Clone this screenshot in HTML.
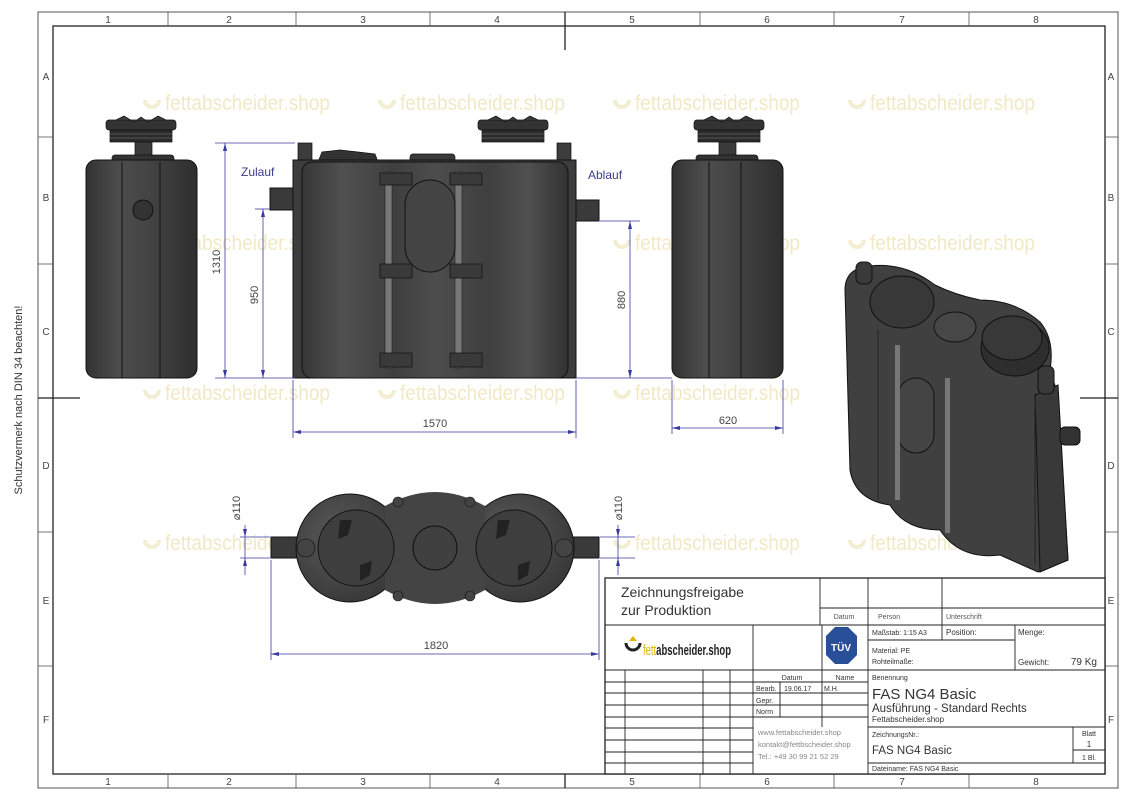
<!DOCTYPE html>
<html><head><meta charset="utf-8"><style>
html,body{margin:0;padding:0;background:#fff}
svg{display:block}
text{font-family:"Liberation Sans",sans-serif}
</style></head><body>
<svg width="1131" height="800" viewBox="0 0 1131 800" xmlns="http://www.w3.org/2000/svg">
<defs>
<linearGradient id="g1" x1="0" x2="1" y1="0" y2="0">
<stop offset="0" stop-color="#333"/><stop offset="0.3" stop-color="#4d4d4d"/><stop offset="0.6" stop-color="#424242"/><stop offset="1" stop-color="#2e2e2e"/></linearGradient>
<linearGradient id="g2" x1="0" x2="1" y1="0" y2="0">
<stop offset="0" stop-color="#363636"/><stop offset="0.15" stop-color="#505050"/><stop offset="0.35" stop-color="#3f3f3f"/><stop offset="0.5" stop-color="#4d4d4d"/><stop offset="0.7" stop-color="#3f3f3f"/><stop offset="0.85" stop-color="#505050"/><stop offset="1" stop-color="#323232"/></linearGradient>
<radialGradient id="g3" cx="0.4" cy="0.4" r="0.7"><stop offset="0" stop-color="#5a5a5a"/><stop offset="1" stop-color="#353535"/></radialGradient>
<g id="lid"><rect x="0" y="0" width="70" height="10" rx="3" fill="#333" stroke="#111" stroke-width="0.7"/><rect x="4" y="10" width="62" height="12" fill="#2b2b2b" stroke="#111" stroke-width="0.7"/><line x1="4" y1="14" x2="66" y2="14" stroke="#555"/><line x1="4" y1="18" x2="66" y2="18" stroke="#555"/><path d="M10 0 L18 -4 L28 2 L35 -3 L42 2 L52 -4 L60 0" fill="#3a3a3a" stroke="#111" stroke-width="0.7"/></g>
<g id="wm"><path d="M-20 -10 a7 7 0 1 0 14 0" fill="none" stroke="#f3edd2" stroke-width="4"/><text x="0" y="0" font-size="21" fill="#f1e9c6" textLength="165" lengthAdjust="spacingAndGlyphs">fettabscheider.shop</text></g>
</defs>

<!-- frame -->
<rect x="38" y="12" width="1080" height="776" fill="none" stroke="#555" stroke-width="1"/>
<rect x="53" y="26" width="1052" height="748" fill="none" stroke="#222" stroke-width="1.3"/>
<g stroke="#555" stroke-width="0.8">
<line x1="168" y1="12" x2="168" y2="26"/><line x1="296" y1="12" x2="296" y2="26"/><line x1="430" y1="12" x2="430" y2="26"/><line x1="700" y1="12" x2="700" y2="26"/><line x1="834" y1="12" x2="834" y2="26"/><line x1="969" y1="12" x2="969" y2="26"/>
<line x1="168" y1="774" x2="168" y2="788"/><line x1="296" y1="774" x2="296" y2="788"/><line x1="430" y1="774" x2="430" y2="788"/><line x1="700" y1="774" x2="700" y2="788"/><line x1="834" y1="774" x2="834" y2="788"/><line x1="969" y1="774" x2="969" y2="788"/>
<line x1="38" y1="137" x2="53" y2="137"/><line x1="38" y1="264" x2="53" y2="264"/><line x1="38" y1="532" x2="53" y2="532"/><line x1="38" y1="666" x2="53" y2="666"/>
<line x1="1105" y1="137" x2="1118" y2="137"/><line x1="1105" y1="264" x2="1118" y2="264"/><line x1="1105" y1="532" x2="1118" y2="532"/><line x1="1105" y1="666" x2="1118" y2="666"/>
</g>
<g stroke="#222" stroke-width="1.3">
<line x1="565" y1="12" x2="565" y2="50"/><line x1="565" y1="774" x2="565" y2="788"/>
<line x1="38" y1="398" x2="80" y2="398"/><line x1="1080" y1="398" x2="1118" y2="398"/>
</g>
<g font-size="10" fill="#444" text-anchor="middle">
<text x="108" y="23">1</text><text x="229" y="23">2</text><text x="363" y="23">3</text><text x="497" y="23">4</text><text x="632" y="23">5</text><text x="767" y="23">6</text><text x="902" y="23">7</text><text x="1036" y="23">8</text>
<text x="108" y="785">1</text><text x="229" y="785">2</text><text x="363" y="785">3</text><text x="497" y="785">4</text><text x="632" y="785">5</text><text x="767" y="785">6</text><text x="902" y="785">7</text><text x="1036" y="785">8</text>
<text x="46" y="80">A</text><text x="46" y="201">B</text><text x="46" y="335">C</text><text x="46" y="469">D</text><text x="46" y="604">E</text><text x="46" y="723">F</text>
<text x="1111" y="80">A</text><text x="1111" y="201">B</text><text x="1111" y="335">C</text><text x="1111" y="469">D</text><text x="1111" y="604">E</text><text x="1111" y="723">F</text>
</g>
<text transform="translate(22,400) rotate(-90)" font-size="11" fill="#333" text-anchor="middle">Schutzvermerk nach DIN 34 beachten!</text>

<!-- watermarks -->
<use href="#wm" x="165" y="110"/><use href="#wm" x="400" y="110"/><use href="#wm" x="635" y="110"/><use href="#wm" x="870" y="110"/>
<use href="#wm" x="165" y="250"/><use href="#wm" x="400" y="250"/><use href="#wm" x="635" y="250"/><use href="#wm" x="870" y="250"/>
<use href="#wm" x="165" y="400"/><use href="#wm" x="400" y="400"/><use href="#wm" x="635" y="400"/>
<use href="#wm" x="165" y="550"/><use href="#wm" x="400" y="550"/><use href="#wm" x="635" y="550"/><use href="#wm" x="870" y="550"/>

<!-- left side view -->
<use href="#lid" x="106" y="120"/>
<rect x="135" y="142" width="17" height="20" fill="#3a3a3a" stroke="#111" stroke-width="0.7"/>
<rect x="112" y="155" width="62" height="8" rx="3" fill="#333" stroke="#111" stroke-width="0.7"/>
<rect x="86" y="160" width="111" height="218" rx="10" fill="url(#g1)" stroke="#111"/>
<line x1="122" y1="162" x2="122" y2="378" stroke="#111"/><line x1="160" y1="162" x2="160" y2="378" stroke="#111"/>
<circle cx="143" cy="210" r="10" fill="#333" stroke="#111"/>

<!-- front view -->
<use href="#lid" x="478" y="120"/>
<rect x="298" y="143" width="14" height="20" fill="#3c3c3c" stroke="#111" stroke-width="0.7"/>
<rect x="557" y="143" width="14" height="20" fill="#3c3c3c" stroke="#111" stroke-width="0.7"/>
<path d="M318 162 L322 152 L340 150 L358 152 L375 154 L378 162Z" fill="#333" stroke="#111" stroke-width="0.7"/>
<rect x="410" y="154" width="45" height="8" rx="3" fill="#3a3a3a" stroke="#111" stroke-width="0.7"/>
<rect x="270" y="188" width="24" height="22" fill="#3a3a3a" stroke="#111"/>
<rect x="576" y="200" width="23" height="21" fill="#3a3a3a" stroke="#111"/>
<rect x="293" y="160" width="283" height="218" fill="#3d3d3d" stroke="#111"/>
<rect x="302" y="162" width="266" height="216" rx="10" fill="url(#g2)" stroke="#111"/>
<rect x="385" y="172" width="7" height="196" fill="#777" stroke="#222" stroke-width="0.6"/>
<rect x="455" y="172" width="7" height="196" fill="#777" stroke="#222" stroke-width="0.6"/>
<rect x="405" y="180" width="50" height="92" rx="25" fill="#444" stroke="#111"/>
<g fill="#3a3a3a" stroke="#111" stroke-width="0.7">
<rect x="380" y="173" width="32" height="12"/><rect x="450" y="173" width="32" height="12"/>
<rect x="380" y="264" width="32" height="14"/><rect x="450" y="264" width="32" height="14"/>
<rect x="380" y="353" width="32" height="14"/><rect x="450" y="353" width="32" height="14"/>
</g>
<text x="241" y="176" font-size="12" fill="#3a3a8a">Zulauf</text>
<text x="588" y="179" font-size="12" fill="#3a3a8a">Ablauf</text>

<!-- right side view -->
<use href="#lid" x="694" y="120"/>
<rect x="719" y="142" width="17" height="20" fill="#3a3a3a" stroke="#111" stroke-width="0.7"/>
<rect x="696" y="155" width="62" height="8" rx="3" fill="#333" stroke="#111" stroke-width="0.7"/>
<rect x="672" y="160" width="111" height="218" rx="10" fill="url(#g1)" stroke="#111"/>
<line x1="709" y1="162" x2="709" y2="378" stroke="#111"/><line x1="741" y1="162" x2="741" y2="378" stroke="#111"/>

<!-- dimensions -->
<g stroke="#3a3aa0" stroke-width="0.8" fill="none">
<line x1="215" y1="143" x2="295" y2="143"/><line x1="225" y1="143" x2="225" y2="378"/>
<line x1="215" y1="378" x2="295" y2="378"/><line x1="263" y1="209" x2="263" y2="378"/><line x1="255" y1="209" x2="270" y2="209"/>
<line x1="630" y1="221" x2="630" y2="378"/><line x1="600" y1="221" x2="640" y2="221"/><line x1="576" y1="378" x2="672" y2="378"/>
<line x1="293" y1="380" x2="293" y2="438"/><line x1="576" y1="380" x2="576" y2="438"/><line x1="293" y1="432" x2="576" y2="432"/>
<line x1="672" y1="380" x2="672" y2="434"/><line x1="783" y1="380" x2="783" y2="434"/><line x1="672" y1="428" x2="783" y2="428"/>
<line x1="271" y1="560" x2="271" y2="660"/><line x1="599" y1="560" x2="599" y2="660"/><line x1="271" y1="654" x2="599" y2="654"/>
<line x1="240" y1="537" x2="270" y2="537"/><line x1="240" y1="558" x2="270" y2="558"/><line x1="245" y1="525" x2="245" y2="575"/>
<line x1="600" y1="537" x2="635" y2="537"/><line x1="600" y1="558" x2="635" y2="558"/><line x1="618" y1="525" x2="618" y2="575"/>
</g>
<g fill="#3a3aa0">
<path d="M225 143 l-2 8 h4z"/><path d="M225 378 l-2 -8 h4z"/><path d="M263 209 l-2 8 h4z"/><path d="M263 378 l-2 -8 h4z"/>
<path d="M630 221 l-2 8 h4z"/><path d="M630 378 l-2 -8 h4z"/>
<path d="M293 432 l8 -2 v4z"/><path d="M576 432 l-8 -2 v4z"/><path d="M672 428 l8 -2 v4z"/><path d="M783 428 l-8 -2 v4z"/>
<path d="M271 654 l8 -2 v4z"/><path d="M599 654 l-8 -2 v4z"/>
<path d="M245 537 l-2 -8 h4z"/><path d="M245 558 l-2 8 h4z"/><path d="M618 537 l-2 -8 h4z"/><path d="M618 558 l-2 8 h4z"/>
</g>
<g font-size="11" fill="#444" text-anchor="middle">
<text transform="translate(220,262) rotate(-90)">1310</text>
<text transform="translate(258,295) rotate(-90)">950</text>
<text transform="translate(625,300) rotate(-90)">880</text>
<text x="435" y="427">1570</text><text x="728" y="424">620</text><text x="436" y="649">1820</text>
<text transform="translate(240,508) rotate(-90)">⌀110</text>
<text transform="translate(622,508) rotate(-90)">⌀110</text>
</g>

<!-- top view -->
<rect x="271" y="537" width="30" height="21" fill="#3a3a3a" stroke="#111"/>
<rect x="569" y="537" width="30" height="21" fill="#3a3a3a" stroke="#111"/>
<g fill="url(#g3)" stroke="#111">
<circle cx="435" cy="548" r="47"/>
<circle cx="350" cy="548" r="54"/><circle cx="520" cy="548" r="54"/>
</g>
<path d="M385 506 Q435 478 485 506 L485 590 Q435 618 385 590Z" fill="#444"/>
<circle cx="356" cy="548" r="38" fill="#3e3e3e" stroke="#111"/>
<circle cx="514" cy="548" r="38" fill="#3e3e3e" stroke="#111"/>
<circle cx="435" cy="548" r="22" fill="#404040" stroke="#111"/>
<g fill="#222"><path d="M340 520 l12 0 l-4 15 l-10 4z"/><path d="M360 565 l12 -4 l-2 14 l-10 6z"/><path d="M498 520 l12 0 l-4 15 l-10 4z"/><path d="M518 565 l12 -4 l-2 14 l-10 6z"/></g>
<g fill="#444" stroke="#111" stroke-width="0.6"><circle cx="398" cy="502" r="5"/><circle cx="470" cy="502" r="5"/><circle cx="398" cy="596" r="5"/><circle cx="470" cy="596" r="5"/><circle cx="306" cy="548" r="9"/><circle cx="564" cy="548" r="9"/></g>

<!-- iso view -->
<path d="M845 290 Q845 268 870 266 Q905 262 935 285 Q955 295 980 300 Q1015 300 1040 322 Q1055 340 1050 370 L1058 395 L1068 560 L1038 572 L1000 555 Q960 560 940 530 Q905 530 890 505 Q855 500 850 470 Z" fill="#404040" stroke="#111"/>
<path d="M1035 395 L1058 385 L1068 560 L1040 572Z" fill="#393939" stroke="#111"/>
<rect x="856" y="262" width="16" height="22" rx="6" fill="#3a3a3a" stroke="#111"/>
<rect x="1038" y="366" width="16" height="28" rx="6" fill="#3a3a3a" stroke="#111"/>
<rect x="1060" y="427" width="20" height="18" rx="5" fill="#333" stroke="#111"/>
<ellipse cx="902" cy="302" rx="32" ry="26" fill="#383838" stroke="#111"/>
<ellipse cx="955" cy="327" rx="21" ry="15" fill="#474747" stroke="#111"/>
<ellipse cx="1015" cy="348" rx="34" ry="28" fill="#2e2e2e" stroke="#111"/>
<ellipse cx="1012" cy="338" rx="30" ry="22" fill="#383838" stroke="#111"/>
<rect x="898" y="378" width="36" height="75" rx="18" fill="#444" stroke="#111"/>
<rect x="895" y="345" width="5" height="155" fill="#777"/><rect x="945" y="378" width="5" height="155" fill="#777"/>
<line x1="878" y1="330" x2="878" y2="500" stroke="#222"/><line x1="1035" y1="400" x2="1035" y2="565" stroke="#222"/>

<!-- title block -->
<g stroke="#222" stroke-width="0.9" fill="none">
<rect x="605" y="578" width="500" height="196" fill="#fff" stroke-width="1.3"/>
<line x1="820" y1="578" x2="820" y2="625"/><line x1="868" y1="578" x2="868" y2="774"/><line x1="942" y1="578" x2="942" y2="640"/>
<line x1="820" y1="608" x2="1105" y2="608"/>
<line x1="605" y1="625" x2="1105" y2="625"/>
<line x1="753" y1="625" x2="753" y2="774"/><line x1="822" y1="625" x2="822" y2="727"/>
<line x1="868" y1="640" x2="1015" y2="640"/><line x1="1015" y1="625" x2="1015" y2="670"/>
<line x1="605" y1="670" x2="1105" y2="670"/>
<line x1="625" y1="670" x2="625" y2="774"/><line x1="703" y1="670" x2="703" y2="774"/><line x1="730" y1="670" x2="730" y2="774"/><line x1="780" y1="682" x2="780" y2="717"/>
<line x1="605" y1="682" x2="868" y2="682"/><line x1="605" y1="693" x2="868" y2="693"/><line x1="605" y1="705" x2="868" y2="705"/><line x1="605" y1="717" x2="868" y2="717"/>
<line x1="605" y1="728" x2="753" y2="728"/><line x1="605" y1="740" x2="753" y2="740"/><line x1="605" y1="752" x2="753" y2="752"/><line x1="605" y1="763" x2="753" y2="763"/>
<line x1="868" y1="727" x2="1105" y2="727"/><line x1="1073" y1="727" x2="1073" y2="763"/><line x1="1073" y1="750" x2="1105" y2="750"/><line x1="868" y1="763" x2="1105" y2="763"/>
</g>
<g fill="#333">
<text x="621" y="597" font-size="14">Zeichnungsfreigabe</text>
<text x="621" y="615" font-size="14">zur Produktion</text>
<text x="844" y="619" font-size="7" text-anchor="middle" fill="#555">Datum</text>
<text x="878" y="619" font-size="7" fill="#555">Person</text>
<text x="946" y="619" font-size="7" fill="#555">Unterschrift</text>
<text x="872" y="635" font-size="7">Maßstab:  1:15  A3</text>
<text x="946" y="635" font-size="8">Position:</text>
<text x="1018" y="635" font-size="8">Menge:</text>
<text x="872" y="653" font-size="7">Material:   PE</text>
<text x="872" y="664" font-size="7">Rohteilmaße:</text>
<text x="1018" y="665" font-size="8">Gewicht:</text>
<text x="1097" y="665" font-size="10" text-anchor="end">79 Kg</text>
<text x="792" y="680" font-size="7" text-anchor="middle">Datum</text><text x="845" y="680" font-size="7" text-anchor="middle">Name</text>
<text x="756" y="691" font-size="7">Bearb.</text><text x="784" y="691" font-size="7">19.06.17</text><text x="824" y="691" font-size="7">M.H.</text>
<text x="756" y="703" font-size="7">Gepr.</text><text x="756" y="714" font-size="7">Norm</text>
<text x="872" y="680" font-size="7">Benennung</text>
<text x="872" y="699" font-size="15">FAS NG4 Basic</text>
<text x="872" y="712" font-size="11.5">Ausführung - Standard Rechts</text>
<text x="872" y="722" font-size="8">Fettabscheider.shop</text>
<text x="872" y="737" font-size="7">ZeichnungsNr.:</text>
<text x="872" y="754" font-size="11.5">FAS NG4 Basic</text>
<text x="1089" y="736" font-size="7" text-anchor="middle">Blatt</text><text x="1089" y="747" font-size="8" text-anchor="middle">1</text><text x="1089" y="760" font-size="7" text-anchor="middle">1 Bl.</text>
<text x="872" y="771" font-size="7">Dateiname: FAS NG4 Basic</text>
<g fill="#888" font-size="7.5"><text x="758" y="735">www.fettabscheider.shop</text><text x="758" y="747">kontakt@fettbscheider.shop</text><text x="758" y="759">Tel.: +49 30 99 21 52 29</text></g>
</g>
<!-- logo -->
<path d="M626 643 a7 7 0 1 0 14 0" fill="none" stroke="#222" stroke-width="3"/><path d="M633 636 l-4 5 h8z" fill="#e0b800"/>
<text x="643" y="655" font-size="15" font-weight="bold" fill="#222" textLength="88" lengthAdjust="spacingAndGlyphs"><tspan fill="#e0b800" font-weight="normal">fett</tspan>abscheider.shop</text>
<!-- TUV -->
<polygon points="835,627 848,627 857,636 857,655 848,664 835,664 826,655 826,636" fill="#2a4f99"/>
<text x="841" y="651" font-size="10" font-weight="bold" fill="#fff" text-anchor="middle">TÜV</text>
</svg>
</body></html>
